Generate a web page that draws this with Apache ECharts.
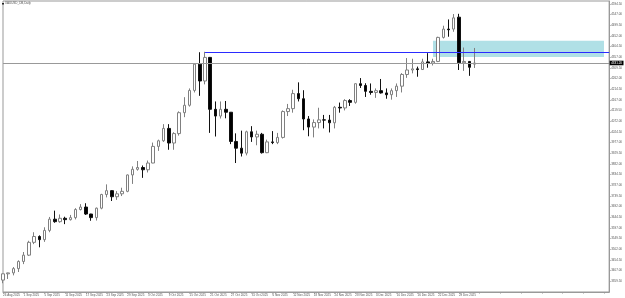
<!DOCTYPE html>
<html>
<head>
<meta charset="utf-8">
<script src="https://cdn.jsdelivr.net/npm/echarts@6/dist/echarts.min.js"></script>
<style>
    html, body { margin: 0; padding: 0; background: #fff; }
    #chart { width: 625px; height: 298px; }
</style>
</head>
<body>
<div id="chart"></div>
<script>
    // daily bars, 26 Aug 2025 .. 2 Jan 2026
    var dates = [
        '26 Aug 2025', '27 Aug 2025', '28 Aug 2025', '29 Aug 2025',
        '1 Sep 2025', '2 Sep 2025', '3 Sep 2025', '4 Sep 2025', '5 Sep 2025',
        '8 Sep 2025', '9 Sep 2025', '10 Sep 2025', '11 Sep 2025', '12 Sep 2025',
        '15 Sep 2025', '16 Sep 2025', '17 Sep 2025', '18 Sep 2025', '19 Sep 2025',
        '22 Sep 2025', '23 Sep 2025', '24 Sep 2025', '25 Sep 2025', '26 Sep 2025',
        '29 Sep 2025', '30 Sep 2025', '1 Oct 2025', '2 Oct 2025', '3 Oct 2025',
        '6 Oct 2025', '7 Oct 2025', '8 Oct 2025', '9 Oct 2025', '10 Oct 2025',
        '13 Oct 2025', '14 Oct 2025', '15 Oct 2025', '16 Oct 2025', '17 Oct 2025',
        '20 Oct 2025', '21 Oct 2025', '22 Oct 2025', '23 Oct 2025', '24 Oct 2025',
        '27 Oct 2025', '28 Oct 2025', '29 Oct 2025', '30 Oct 2025', '31 Oct 2025',
        '3 Nov 2025', '4 Nov 2025', '5 Nov 2025', '6 Nov 2025', '7 Nov 2025',
        '10 Nov 2025', '11 Nov 2025', '12 Nov 2025', '13 Nov 2025', '14 Nov 2025',
        '17 Nov 2025', '18 Nov 2025', '19 Nov 2025', '20 Nov 2025', '21 Nov 2025',
        '24 Nov 2025', '25 Nov 2025', '26 Nov 2025', '27 Nov 2025', '28 Nov 2025',
        '1 Dec 2025', '2 Dec 2025', '3 Dec 2025', '4 Dec 2025', '5 Dec 2025',
        '8 Dec 2025', '9 Dec 2025', '10 Dec 2025', '11 Dec 2025', '12 Dec 2025',
        '15 Dec 2025', '16 Dec 2025', '17 Dec 2025', '18 Dec 2025', '19 Dec 2025',
        '22 Dec 2025', '23 Dec 2025', '24 Dec 2025', '26 Dec 2025',
        '29 Dec 2025', '30 Dec 2025', '31 Dec 2025', '2 Jan 2026'
    ]
    var open = [
        3365, 3393, 3397, 3416, 3448, 3476, 3533, 3559, 3545, 3586,
        3636, 3625, 3640, 3634, 3643, 3679, 3690, 3659, 3643, 3685,
        3746, 3763, 3736, 3749, 3760, 3833, 3858, 3866, 3856, 3886,
        3960, 3985, 4040, 3975, 4017, 4110, 4143, 4209, 4326, 4251,
        4356, 4125, 4095, 4125, 4112, 3982, 3952, 3930, 4025, 4002,
        4014, 3932, 3980, 3977, 4000, 4115, 4128, 4195, 4172, 4082,
        4046, 4066, 4078, 4077, 4065, 4134, 4131, 4164, 4156, 4239,
        4231, 4205, 4200, 4208, 4198, 4190, 4208, 4228, 4280, 4300,
        4305, 4302, 4336, 4331, 4338, 4445, 4482, 4482, 4535, 4332,
        4338, 4326
    ]
    var close = [
        3393, 3397, 3416, 3448, 3476, 3533, 3559, 3545, 3586, 3636,
        3625, 3640, 3634, 3643, 3679, 3690, 3659, 3643, 3685, 3746,
        3763, 3736, 3749, 3760, 3833, 3858, 3866, 3856, 3886, 3960,
        3985, 4040, 3975, 4017, 4110, 4143, 4209, 4326, 4251, 4356,
        4125, 4095, 4125, 4112, 3982, 3952, 3930, 4025, 4002, 4014,
        3932, 3980, 3977, 4000, 4115, 4128, 4195, 4172, 4082, 4046,
        4066, 4078, 4077, 4065, 4134, 4131, 4164, 4156, 4239, 4231,
        4205, 4200, 4208, 4198, 4190, 4208, 4228, 4280, 4300, 4305,
        4302, 4336, 4331, 4338, 4445, 4482, 4479, 4532, 4332, 4338,
        4312, 4331
    ]
    var low = [
        3351, 3370, 3386, 3401, 3436, 3472, 3525, 3511, 3535, 3578,
        3620, 3620, 3614, 3630, 3635, 3675, 3655, 3629, 3630, 3680,
        3733, 3717, 3722, 3739, 3756, 3793, 3852, 3820, 3844, 3885,
        3940, 3980, 3945, 3945, 4008, 4090, 4137, 4200, 4185, 4236,
        4020, 4004, 4084, 4085, 3970, 3886, 3915, 3920, 3980, 3965,
        3928, 3930, 3970, 3970, 3995, 4095, 4110, 4160, 4032, 4005,
        4000, 4040, 4040, 4022, 4040, 4110, 4120, 4140, 4150, 4220,
        4180, 4190, 4176, 4195, 4172, 4168, 4180, 4200, 4265, 4285,
        4270, 4300, 4310, 4320, 4335, 4440, 4448, 4470, 4300, 4296,
        4274, 4309
    ]
    var high = [
        3394, 3398, 3423, 3453, 3490, 3540, 3578, 3564, 3600, 3646,
        3674, 3657, 3647, 3655, 3685, 3703, 3707, 3660, 3688, 3749,
        3791, 3765, 3761, 3776, 3835, 3871, 3895, 3875, 3897, 3977,
        3990, 4059, 4059, 4023, 4116, 4179, 4218, 4330, 4379, 4381,
        4358, 4160, 4160, 4162, 4113, 4018, 4030, 4030, 4050, 4030,
        4020, 3990, 4028, 4020, 4120, 4149, 4212, 4245, 4210, 4095,
        4080, 4132, 4100, 4100, 4140, 4155, 4170, 4170, 4240, 4264,
        4241, 4240, 4218, 4260, 4218, 4218, 4240, 4286, 4353, 4350,
        4315, 4350, 4375, 4350, 4448, 4497, 4525, 4549, 4550, 4400,
        4340, 4398
    ]
    var totalSlots = 118          // bars plus empty space to the right
    var bidPrice = 4331.20
    var levelPrice = 4381         // blue line from the 20 Oct high
    var levelStart = 39
    var zoneTop = 4430
    var zoneBottom = 4358
    var zoneStart = 83

    var categories = dates.slice()
    for (var n = dates.length; n < totalSlots; n++) categories.push('s' + n)
    var candles = []
    for (var i = 0; i < dates.length; i++) {
        candles.push([open[i], close[i], low[i], high[i]])
    }

    var chart = echarts.init(document.getElementById('chart'))
    var txt = { fontFamily: 'Liberation Sans', fontSize: 3, color: '#555' }
    chart.setOption({
        animation: false,
        title: {
            text: 'XAUUSD_DB,Daily',
            left: 5, top: 2, padding: 0,
            textStyle: { fontFamily: 'Liberation Sans', fontSize: 3, color: '#555', fontWeight: 'normal' }
        },
        graphic: [{ type: 'rect', shape: { x: 2, y: 3, width: 2, height: 1.5 }, style: { fill: '#222' } }],
        grid: {
            left: 1, right: 15, top: 1, bottom: 6,
            show: true, borderColor: '#999', borderWidth: 1
        },
        xAxis: {
            type: 'category',
            data: categories,
            boundaryGap: false,
            axisLine: { lineStyle: { color: '#999' } },
            axisTick: { interval: 3, length: 1.5, lineStyle: { color: '#999' } },
            axisLabel: {
                interval: 3, align: 'left', margin: 1.5,
                fontFamily: txt.fontFamily, fontSize: txt.fontSize, color: txt.color,
                formatter: function (v, idx) { return idx < dates.length ? v : '' }
            },
            splitLine: { show: false }
        },
        yAxis: {
            type: 'value',
            position: 'right',
            min: 3312, max: 4607, interval: 47.5,
            axisLine: { show: true, lineStyle: { color: '#999' } },
            axisTick: { show: true, length: 1.5, lineStyle: { color: '#999' } },
            axisLabel: {
                margin: 2, showMinLabel: false, showMaxLabel: false,
                fontFamily: txt.fontFamily, fontSize: txt.fontSize, color: txt.color,
                formatter: function (v) { return v.toFixed(2) }
            },
            splitLine: { show: false }
        },
        series: [{
            type: 'candlestick',
            data: candles,
            barWidth: 3,
            itemStyle: {
                color: '#fff', color0: '#000',
                borderColor: '#808080', borderColor0: '#111', borderWidth: 1
            },
            markArea: {
                silent: true,
                itemStyle: { color: '#b0e0e6' },
                data: [[{ coord: [zoneStart, zoneTop] }, { coord: [116.4, zoneBottom] }]]
            },
            markLine: {
                silent: true,
                symbol: 'none',
                animation: false,
                data: [
                    {
                        yAxis: bidPrice,
                        lineStyle: { color: '#999', type: 'solid', width: 1 },
                        label: {
                            show: true, position: 'end', distance: 0.5,
                            formatter: bidPrice.toFixed(2),
                            backgroundColor: '#000', color: '#fff',
                            fontFamily: 'Liberation Sans', fontSize: 3, padding: [0.8, 1.5]
                        }
                    },
                    [
                        { coord: [levelStart, levelPrice], lineStyle: { color: '#2b2bff', type: 'solid', width: 1 }, label: { show: false } },
                        { coord: [totalSlots - 1, levelPrice] }
                    ]
                ]
            }
        }]
    })
</script>
</body>
</html>
